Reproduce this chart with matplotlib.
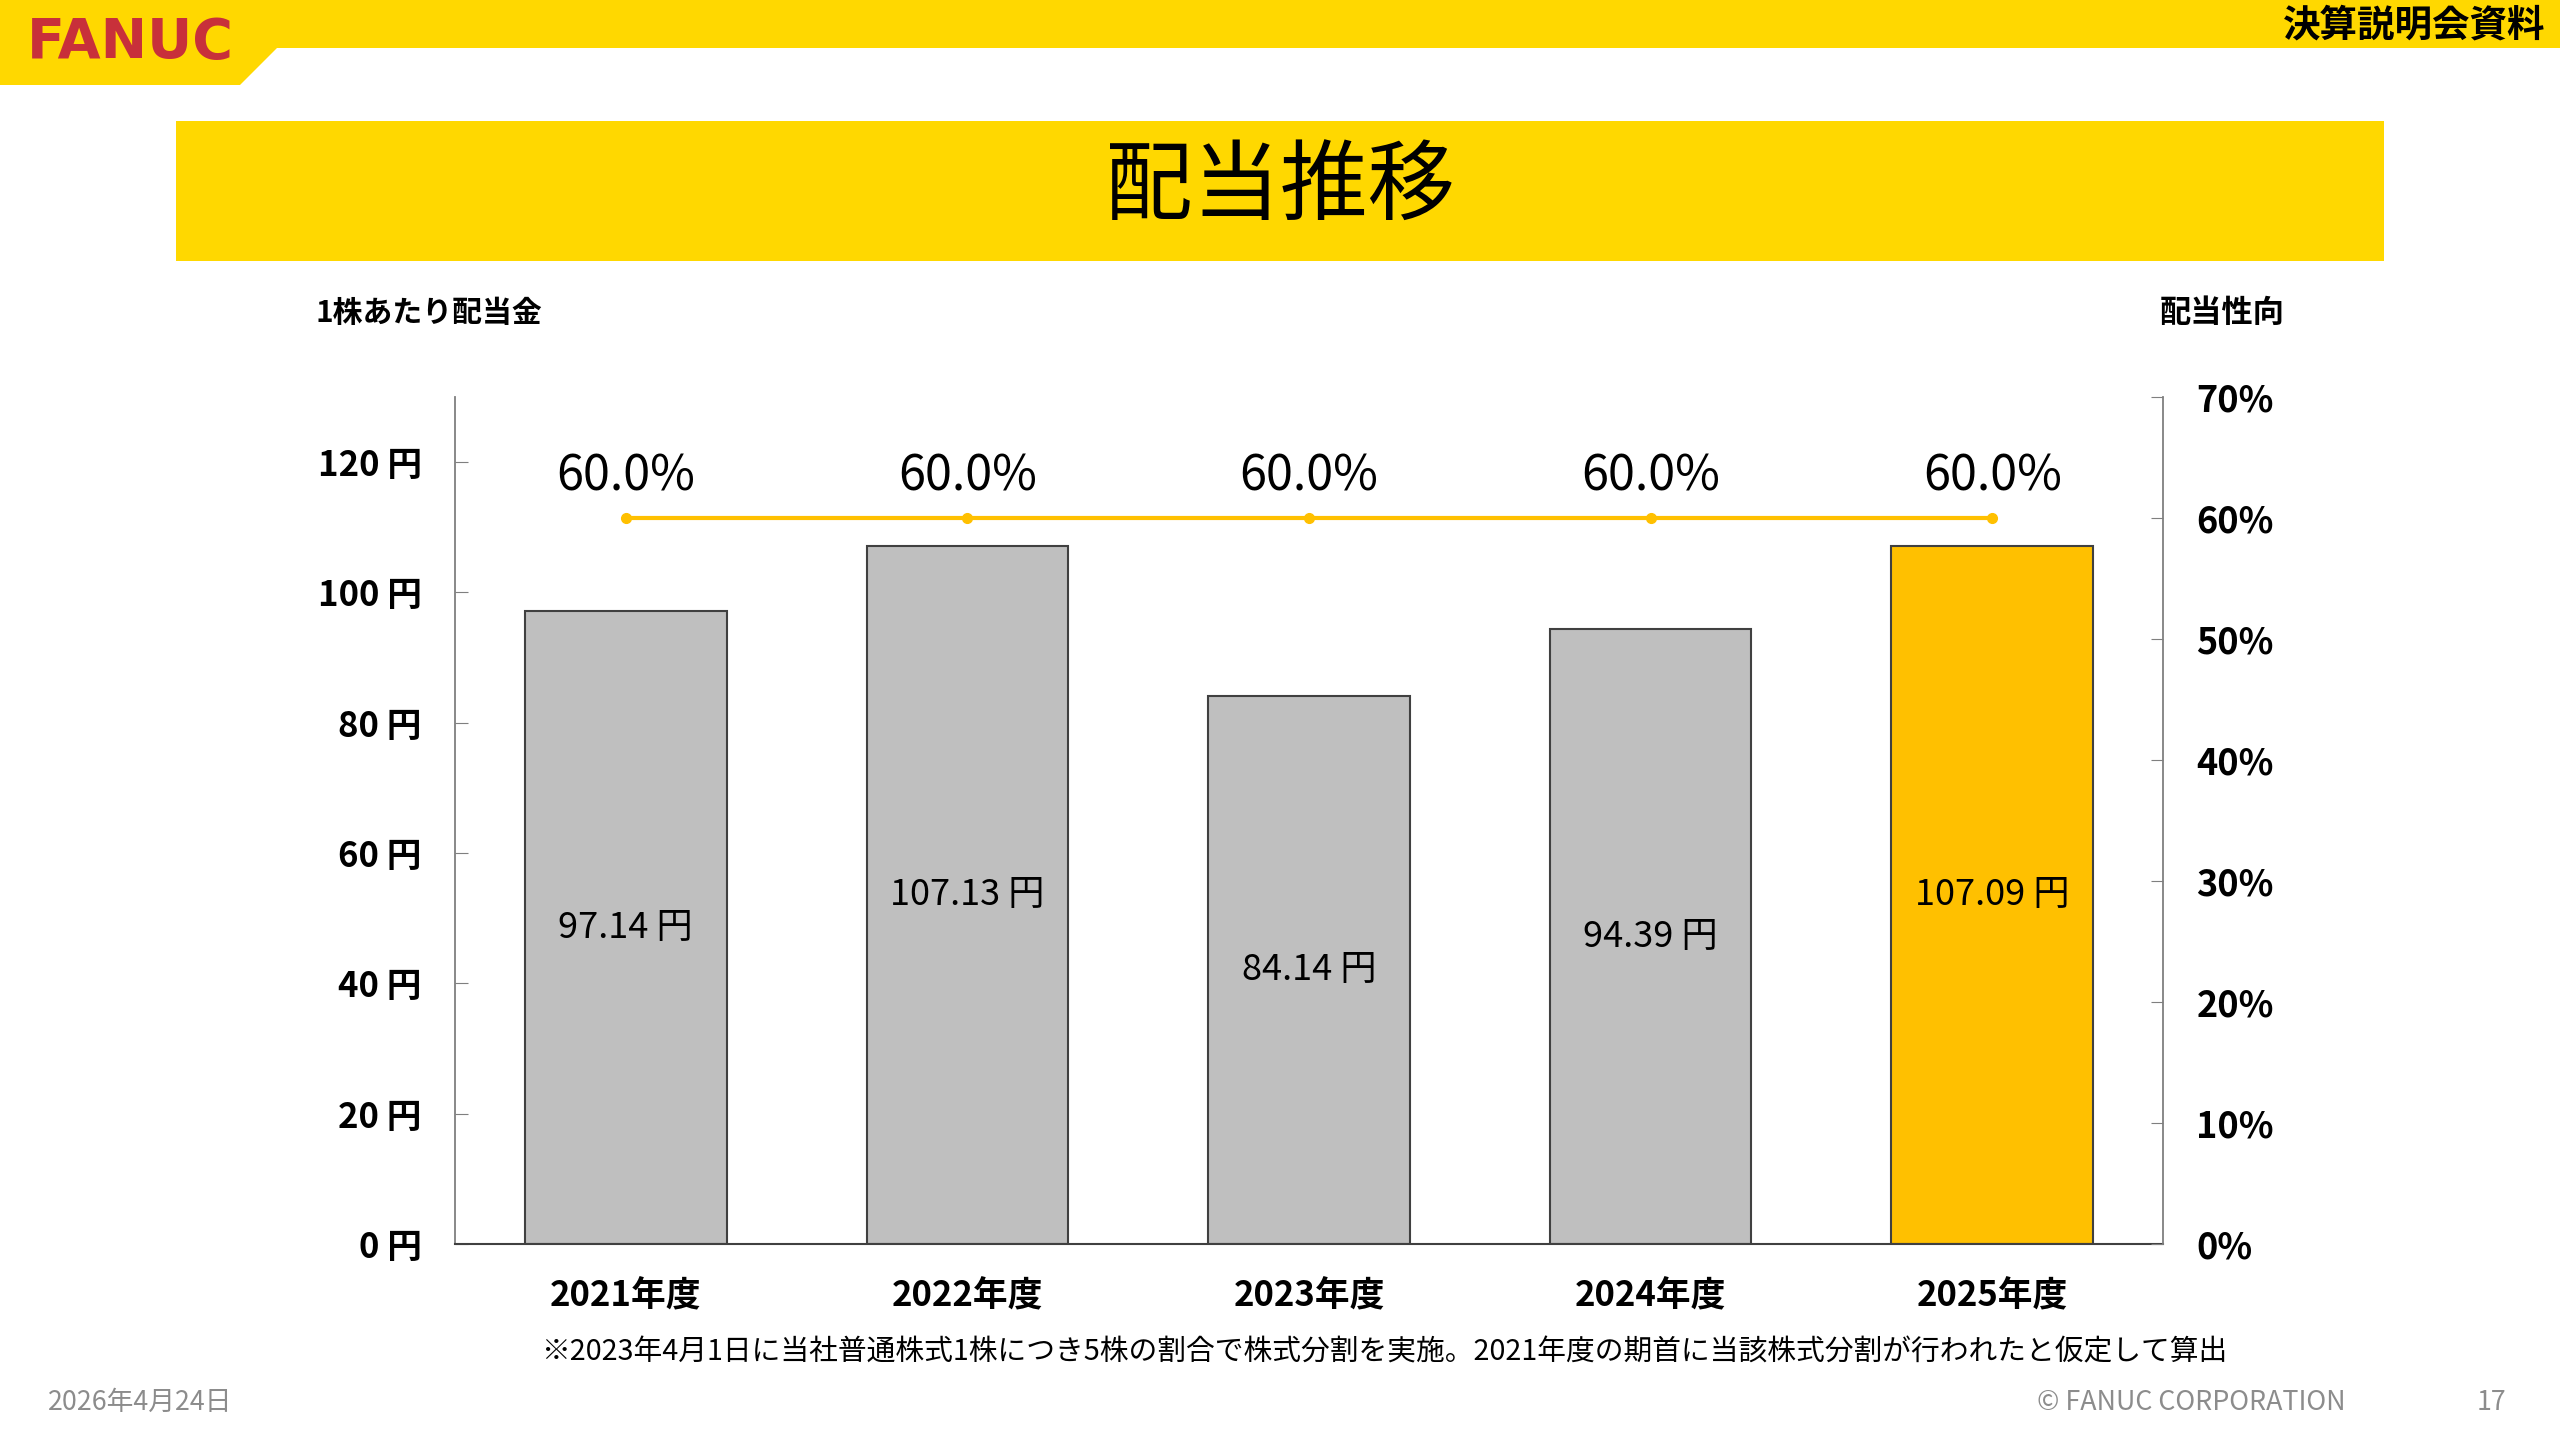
import numpy as np
import matplotlib
matplotlib.use('Agg')
import matplotlib.pyplot as plt
from matplotlib.patches import Polygon, Rectangle

plt.rcParams['font.family'] = ['Noto Sans CJK JP', 'DejaVu Sans']

# data
years = ['2021年度', '2022年度', '2023年度', '2024年度', '2025年度']
dividend = [97.14, 107.13, 84.14, 94.39, 107.09]
payout = [60.0, 60.0, 60.0, 60.0, 60.0]
left_ticks = [0, 20, 40, 60, 80, 100, 120]
right_ticks = [0, 10, 20, 30, 40, 50, 60, 70]

W, H = 2560, 1440
yellow = '#FFD800'
gold = '#FFC000'
grey_bar = '#BFBFBF'

fig = plt.figure(figsize=(25.6, 14.4), dpi=100)

# background layer in pixel coords
bg = fig.add_axes([0, 0, 1, 1])
bg.set_xlim(0, W)
bg.set_ylim(H, 0)
bg.axis('off')

bg.add_patch(Polygon([(0, 0), (W, 0), (W, 48), (277, 48), (240, 85), (0, 85)],
                     closed=True, facecolor=yellow, edgecolor='none'))
bg.text(130, 43, 'FANUC', color='#C8303A', fontsize=40, fontweight='heavy',
        family='DejaVu Sans', ha='center', va='center')
bg.text(2545, 25, '決算説明会資料', fontsize=27, fontweight='bold',
        ha='right', va='center')

bg.add_patch(Rectangle((176, 121), 2384 - 176, 140, facecolor=yellow, edgecolor='none'))
bg.text(1280, 189, '配当推移', fontsize=63, ha='center', va='center')

bg.text(316, 313, '1株あたり配当金', fontsize=21.5, fontweight='bold', ha='left', va='center')
bg.text(2160, 313, '配当性向', fontsize=22.5, fontweight='bold', ha='left', va='center')

bg.text(1384, 1352, '※2023年4月1日に当社普通株式1株につき5株の割合で株式分割を実施。'
        '2021年度の期首に当該株式分割が行われたと仮定して算出',
        fontsize=20.7, ha='center', va='center')

bg.text(48, 1402, '2026年4月24日', fontsize=19.3, color='#8C8C8C', ha='left', va='center')
bg.text(2346, 1402, '© FANUC CORPORATION', fontsize=19.3, color='#8C8C8C', ha='right', va='center')
bg.text(2506, 1402, '17', fontsize=19.3, color='#8C8C8C', ha='right', va='center')

# chart
x0, x1, yb, yt = 455, 2163, 1244, 397
ax = fig.add_axes([x0 / W, 1 - yb / H, (x1 - x0) / W, (yb - yt) / H])
ax.patch.set_alpha(0)
x = np.arange(len(years))
colors = [grey_bar] * (len(years) - 1) + [gold]
ax.bar(x, dividend, width=0.59, color=colors, edgecolor='#404040', linewidth=1.5, zorder=2)
for xi, v in zip(x, dividend):
    ax.text(xi, v / 2, f'{v:.2f} 円', fontsize=26, ha='center', va='center', zorder=3)

ax.set_xlim(-0.5, len(years) - 0.5)
ax.set_ylim(0, 130)
ax.set_yticks(left_ticks)
ax.set_yticklabels([f'{t} 円' for t in left_ticks], fontsize=25, fontweight='bold')
ax.set_xticks(x)
ax.set_xticklabels(years, fontsize=25, fontweight='bold')
ax.tick_params(axis='y', direction='in', length=9, color='#7F7F7F', pad=24)
ax.tick_params(axis='x', length=0, pad=25)
ax.spines['top'].set_visible(False)
ax.spines['right'].set_visible(False)
ax.spines['left'].set_color('#7F7F7F')
ax.spines['left'].set_linewidth(1.3)
ax.spines['bottom'].set_color('#404040')
ax.spines['bottom'].set_linewidth(1.5)

ax2 = ax.twinx()
ax2.set_ylim(0, 70)
ax2.set_yticks(right_ticks)
ax2.set_yticklabels([f'{t}%' for t in right_ticks], fontsize=26, fontweight='bold')
ax2.tick_params(axis='y', direction='in', length=9, color='#7F7F7F', pad=24)
for s in ['top', 'left', 'bottom']:
    ax2.spines[s].set_visible(False)
ax2.spines['right'].set_color('#7F7F7F')
ax2.spines['right'].set_linewidth(1.3)
ax2.plot(x, payout, color=gold, linewidth=3, marker='o', markersize=7, zorder=4)
for xi, p in zip(x, payout):
    ax2.text(xi, p + 3.4, f'{p:.1f}%', fontsize=35, ha='center', va='center')

fig.savefig('out.png', dpi=100)
